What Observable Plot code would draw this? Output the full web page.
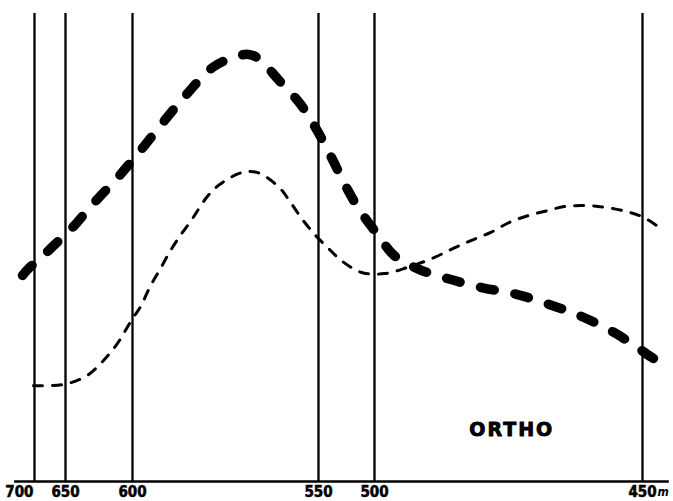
<!DOCTYPE html>
<html>
<head>
<meta charset="utf-8">
<script src="https://cdn.jsdelivr.net/npm/d3@7"></script>
<script src="https://cdn.jsdelivr.net/npm/@observablehq/plot@0.6"></script>
<style>
  html, body { margin: 0; padding: 0; background: #fff; }
  svg { display: block; }
</style>
</head>
<body>
<div id="chart"></div>
<script>
// Wavelength marks (nm) drawn as vertical lines, and their labels
const ticks = [700, 650, 600, 550, 500, 450];
const tickLabels = ["700", "650", "600", "550", "500", "450"];

// Thick dashed curve (wavelength nm, relative response)
const thickWl = [719.4, 709.7, 690.3, 669.4, 645.5, 629.1, 609.7, 597.8, 591.4, 585.5, 578.5, 572.3, 568.8, 566.1, 560.8, 554.8, 550.5, 538.4, 525.0, 512.5, 499.3, 496.3, 491.6, 486.4, 480.0, 473.5, 467.3, 461.8, 455.0, 448.3, 445.7];
const thickVal = [45.8, 47.3, 49.6, 52.4, 56.2, 61.8, 68.0, 73.6, 80.2, 86.0, 92.0, 94.4, 94.9, 94.0, 89.3, 83.8, 78.2, 72.0, 65.3, 60.0, 54.7, 50.2, 47.1, 45.1, 43.1, 41.6, 39.3, 36.9, 32.9, 27.6, 25.6];

// Thin dashed curve
const thinWl = [701.6, 674.2, 647.8, 633.6, 621.6, 611.2, 600.0, 597.8, 595.4, 592.5, 589.8, 587.1, 583.9, 580.1, 576.9, 571.5, 568.3, 565.6, 560.5, 557.5, 554.3, 550.8, 541.1, 528.6, 510.7, 498.1, 493.8, 489.2, 485.3, 481.9, 478.4, 474.8, 471.3, 467.7, 464.6, 460.4, 456.7, 453.0, 449.8, 446.6];
const thinVal = [21.3, 21.3, 21.8, 23.6, 26.9, 30.7, 36.2, 38.9, 43.1, 47.3, 51.3, 54.7, 58.4, 63.1, 65.8, 68.4, 68.9, 68.4, 65.3, 62.0, 58.2, 54.7, 51.8, 48.9, 46.4, 46.2, 47.6, 49.6, 51.8, 53.6, 55.3, 57.6, 59.1, 60.2, 61.1, 61.3, 60.9, 60.0, 58.7, 56.2];

// Annotation
const panelLabel = [{text: "ORTHO", wl: 474.4, val: 10.2}];
const unitLabel = [{text: "m", wl: 447.2, val: 0}];
const axisExtent = {from: 732, to: 445};

const thick = thickWl.map((w, i) => ({wl: w, v: thickVal[i]}));
const thin = thinWl.map((w, i) => ({wl: w, v: thinVal[i]}));
const tickData = ticks.map((t, i) => ({wl: t, label: tickLabels[i]}));

const font = "'DejaVu Sans Condensed', 'DejaVu Sans', sans-serif";

const chart = Plot.plot({
  width: 673,
  height: 501,
  marginTop: 13,
  marginBottom: 20,
  marginLeft: 0,
  marginRight: 0,
  x: {type: "linear", domain: ticks, range: [34, 65, 132, 318, 374, 642], axis: null},
  y: {domain: [0, 104], axis: null},
  style: {background: "#fff"},
  marks: [
    Plot.ruleX(tickData, {x: "wl", y1: 0, y2: 104, stroke: "#000", strokeWidth: 2.3}),
    Plot.ruleY([0], {x1: axisExtent.from, x2: axisExtent.to, stroke: "#000", strokeWidth: 2.5}),
    Plot.line(thin, {x: "wl", y: "v", curve: "catmull-rom", stroke: "#000", strokeWidth: 3, strokeDasharray: "9,10"}),
    Plot.line(thick, {x: "wl", y: "v", curve: "catmull-rom", stroke: "#000", strokeWidth: 9.5, strokeDasharray: "14,21", strokeLinecap: "round"}),
    Plot.text(tickData.filter(d => d.wl !== 700), {x: "wl", y: 0, text: "label", lineAnchor: "top", dy: 5, fontSize: 15, fontWeight: "bold", fontFamily: font, fill: "#000", stroke: "#000", strokeWidth: 0.5}),
    Plot.text(tickData.filter(d => d.wl === 700), {x: "wl", y: 0, text: "label", lineAnchor: "top", dy: 5, dx: -1, textAnchor: "end", fontSize: 15, fontWeight: "bold", fontFamily: font, fill: "#000", stroke: "#000", strokeWidth: 0.5}),
    Plot.text(unitLabel, {x: "wl", y: "val", text: "text", lineAnchor: "top", dy: 6, textAnchor: "start", fontSize: 12, fontStyle: "italic", fontWeight: "bold", fontFamily: font, fill: "#000"}),
    Plot.text(panelLabel, {x: "wl", y: "val", text: "text", lineAnchor: "bottom", fontSize: 19, fontWeight: "bold", fontFamily: "'DejaVu Sans', sans-serif", fill: "#000", stroke: "#000", strokeWidth: 0.9})
  ]
});
d3.select(chart).selectAll("text").filter(function () { return this.textContent === "ORTHO"; })
  .style("letter-spacing", "2px");
document.getElementById("chart").appendChild(chart);
</script>
</body>
</html>
